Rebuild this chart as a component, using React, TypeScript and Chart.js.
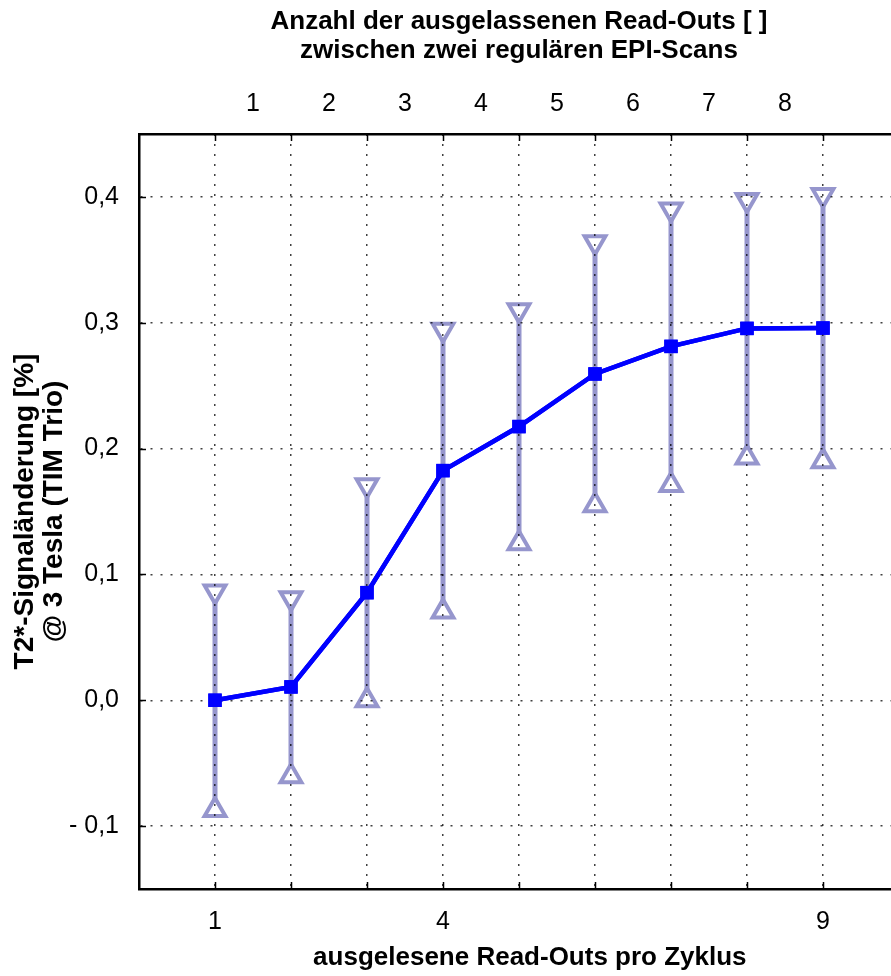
import React, { useEffect, useRef } from 'react';
import { Chart, registerables } from 'chart.js';

Chart.register(...registerables);

// ---- data ----
const readOuts = [1, 2, 3, 4, 5, 6, 7, 8, 9];
const meanChange = [0.0, 0.0106, 0.0855, 0.1825, 0.2175, 0.2593, 0.2812, 0.2955, 0.2958];
const upperBound = [0.0865, 0.081, 0.1708, 0.2944, 0.31, 0.364, 0.39, 0.3976, 0.4016];
const lowerBound = [-0.0873, -0.0603, 0.0, 0.0706, 0.1248, 0.155, 0.171, 0.193, 0.19];
const bottomTickLabels = ['1', '', '', '4', '', '', '', '', '9'];
const skippedPositions = [1.5, 2.5, 3.5, 4.5, 5.5, 6.5, 7.5, 8.5];
const skippedLabels = ['1', '2', '3', '4', '5', '6', '7', '8'];
const yTickValues = [-0.1, 0.0, 0.1, 0.2, 0.3, 0.4];
const yTickLabels = ['- 0,1', '0,0', '0,1', '0,2', '0,3', '0,4'];

const FONT = "'Liberation Sans', Arial, sans-serif";
const ERR_COLOR = '#9696cd';
const MEAN_COLOR = '#0000ff';

const innerTicksPlugin = {
  id: 'innerTicks',
  afterDraw(chart: any) {
    // redraw mean line above the dotted grid
    const meta = chart.getDatasetMeta(0);
    if (meta && meta.controller) meta.controller.draw();

    const { ctx, chartArea, scales } = chart;
    const { left, top, bottom } = chartArea;
    ctx.save();
    ctx.strokeStyle = '#000';
    ctx.lineWidth = 1.5;
    ctx.setLineDash([]);
    ctx.beginPath();
    readOuts.forEach((v) => {
      const px = Math.round(scales.x.getPixelForValue(v)) + 0.5;
      ctx.moveTo(px, top);
      ctx.lineTo(px, top + 7);
      ctx.moveTo(px, bottom);
      ctx.lineTo(px, bottom - 7);
    });
    yTickValues.forEach((v) => {
      const py = Math.round(scales.y.getPixelForValue(v)) + 0.5;
      ctx.moveTo(left, py);
      ctx.lineTo(left + 7, py);
    });
    ctx.stroke();
    ctx.restore();
  },
};

export default function App() {
  const ref = useRef<HTMLCanvasElement | null>(null);

  useEffect(() => {
    document.body.style.margin = '0';
    document.body.style.overflow = 'hidden';
    const canvas = ref.current;
    if (!canvas) return;

    const meanData = readOuts.map((x, i) => ({ x, y: meanChange[i] }));
    const upperData = readOuts.map((x, i) => ({ x, y: upperBound[i] }));
    const lowerData = readOuts.map((x, i) => ({ x, y: lowerBound[i] }));
    const barData: any[] = [];
    readOuts.forEach((x, i) => {
      barData.push({ x, y: lowerBound[i] });
      barData.push({ x, y: upperBound[i] });
      barData.push({ x, y: null });
    });

    const gridOpts = {
      z: 1,
      color: 'rgba(0,0,0,0.75)',
      lineWidth: 1.5,
      drawTicks: false,
    };

    const chart = new Chart(canvas, {
      type: 'scatter',
      data: {
        datasets: [
          {
            label: 'Mittelwert',
            data: meanData,
            showLine: true,
            borderColor: MEAN_COLOR,
            backgroundColor: MEAN_COLOR,
            borderWidth: 4.5,
            pointStyle: 'rect',
            pointRadius: 9.5,
            pointBorderWidth: 0,
            pointBackgroundColor: MEAN_COLOR,
            xAxisID: 'x',
            yAxisID: 'y',
            order: 0,
          } as any,
          {
            label: 'Obergrenze',
            data: upperData,
            showLine: false,
            pointStyle: 'triangle',
            rotation: 180,
            pointRadius: 12,
            pointBorderWidth: 4,
            pointBorderColor: ERR_COLOR,
            pointBackgroundColor: '#ffffff',
            xAxisID: 'x',
            yAxisID: 'y',
            order: 1,
          } as any,
          {
            label: 'Untergrenze',
            data: lowerData,
            showLine: false,
            pointStyle: 'triangle',
            rotation: 0,
            pointRadius: 12,
            pointBorderWidth: 4,
            pointBorderColor: ERR_COLOR,
            pointBackgroundColor: '#ffffff',
            xAxisID: 'x',
            yAxisID: 'y',
            order: 1,
          } as any,
          {
            label: 'Fehlerbalken',
            data: barData,
            showLine: true,
            spanGaps: false,
            borderColor: ERR_COLOR,
            borderWidth: 5,
            pointRadius: 0,
            xAxisID: 'x',
            yAxisID: 'y',
            order: 2,
          } as any,
        ],
      },
      options: {
        responsive: false,
        animation: false,
        devicePixelRatio: 1,
        layout: { padding: { left: 0, right: 21, top: 0, bottom: 0 } },
        plugins: {
          legend: { display: false },
          tooltip: { enabled: false },
          title: { display: false },
        },
        scales: {
          x: {
            type: 'linear',
            position: 'bottom',
            min: 0,
            max: 10,
            afterBuildTicks: (s: any) => {
              s.ticks = readOuts.map((v) => ({ value: v }));
            },
            afterFit: (s: any) => {
              s.height = 87;
            },
            ticks: {
              autoSkip: false,
              maxRotation: 0,
              padding: 18,
              color: '#000',
              font: { family: FONT, size: 25 },
              callback: (v: any) => bottomTickLabels[readOuts.indexOf(v)] ?? '',
            },
            grid: gridOpts,
            border: { display: true, color: '#000', width: 2.5, dash: [2, 8], z: 2 },
            title: {
              display: true,
              text: '\u00a0\u00a0\u00a0ausgelesene Read-Outs pro Zyklus',
              color: '#000',
              font: { family: FONT, size: 26, weight: 'bold' },
              padding: { top: 0, bottom: 3 },
            },
          },
          x2: {
            type: 'linear',
            axis: 'x',
            position: 'top',
            min: 0,
            max: 10,
            afterBuildTicks: (s: any) => {
              s.ticks = skippedPositions.map((v) => ({ value: v }));
            },
            afterFit: (s: any) => {
              s.height = 134;
            },
            ticks: {
              autoSkip: false,
              maxRotation: 0,
              padding: 15,
              color: '#000',
              font: { family: FONT, size: 25 },
              callback: (v: any) => skippedLabels[skippedPositions.indexOf(v)] ?? '',
            },
            grid: { display: false, drawTicks: false },
            border: { display: true, color: '#000', width: 2.5, z: 2 },
            title: {
              display: true,
              text: ['Anzahl der ausgelassenen Read-Outs [ ]', 'zwischen zwei regulären EPI-Scans'],
              color: '#000',
              font: { family: FONT, size: 26, weight: 'bold', lineHeight: 1.1 },
              padding: { top: 8, bottom: 0 },
            },
          },
          y: {
            type: 'linear',
            position: 'left',
            min: -0.15,
            max: 0.45,
            afterBuildTicks: (s: any) => {
              s.ticks = yTickValues.map((v) => ({ value: v }));
            },
            afterFit: (s: any) => {
              s.width = 139;
            },
            ticks: {
              autoSkip: false,
              padding: 20,
              color: '#000',
              font: { family: FONT, size: 25 },
              callback: (v: any) => yTickLabels[yTickValues.indexOf(v)] ?? '',
            },
            grid: gridOpts,
            border: { display: true, color: '#000', width: 2.5, dash: [2, 8], z: 2 },
            title: {
              display: true,
              text: ['T2*-Signaländerung [%]', '@ 3 Tesla (TIM Trio)'],
              color: '#000',
              font: { family: FONT, size: 28, weight: 'bold', lineHeight: 1.04 },
              padding: { top: 11, bottom: 0 },
            },
          },
        },
      } as any,
      plugins: [innerTicksPlugin],
    });

    return () => {
      chart.destroy();
    };
  }, []);

  return (
    <div style={{ width: 891, height: 976, overflow: 'hidden', position: 'relative' }}>
      <div style={{ width: 920, height: 976 }}>
        <canvas ref={ref} width={920} height={976} style={{ display: 'block' }} />
      </div>
    </div>
  );
}
